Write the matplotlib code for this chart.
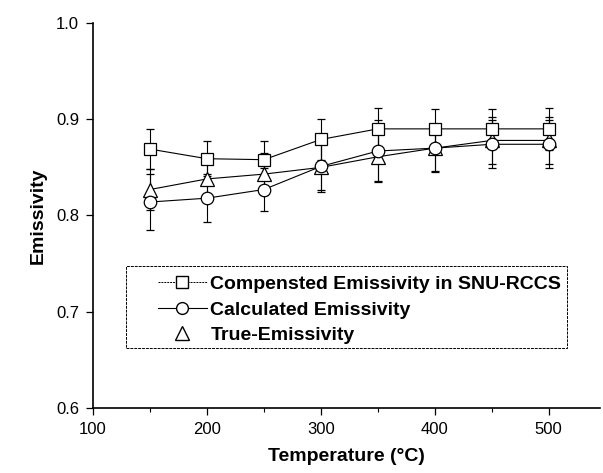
import numpy as np
from matplotlib import pyplot as plt
from matplotlib.lines import Line2D
from matplotlib.patches import Rectangle
from matplotlib.ticker import MultipleLocator

plt.rcParams['font.family'] = ['Liberation Sans', 'DejaVu Sans']

temperature = [150, 200, 250, 300, 350, 400, 450, 500]

compensated = [0.869, 0.859, 0.858, 0.879, 0.890, 0.890, 0.890, 0.890]
compensated_err = [0.021, 0.018, 0.019, 0.021, 0.022, 0.021, 0.021, 0.022]

calculated = [0.814, 0.818, 0.827, 0.851, 0.867, 0.870, 0.874, 0.874]
calculated_err = [0.029, 0.025, 0.022, 0.027, 0.032, 0.025, 0.025, 0.025]

true_emis = [0.827, 0.838, 0.843, 0.850, 0.861, 0.870, 0.878, 0.878]
true_err = [0.021, 0.022, 0.022, 0.024, 0.025, 0.024, 0.024, 0.024]

labels = ['Compensted Emissivity in SNU-RCCS', 'Calculated Emissivity', 'True-Emissivity']

fig = plt.figure(figsize=(6.03, 4.73), dpi=100)
ax = fig.add_axes([93/603, 65/473, 507/603, 385/473])

style = dict(color='black', lw=0.8, mfc='white', mec='black', mew=0.9,
             elinewidth=0.8, capsize=3, capthick=0.8)
ax.errorbar(temperature, true_emis, yerr=true_err, marker='^', ms=10, **style)
ax.errorbar(temperature, calculated, yerr=calculated_err, marker='o', ms=9, **style)
ax.errorbar(temperature, compensated, yerr=compensated_err, marker='s', ms=8.5, **style)

ax.set_xlim(100, 545)
ax.set_ylim(0.6, 1.0)
ax.xaxis.set_major_locator(MultipleLocator(100))
ax.xaxis.set_minor_locator(MultipleLocator(50))
ax.yaxis.set_major_locator(MultipleLocator(0.1))
ax.tick_params(which='major', direction='out', length=5, width=0.9, labelsize=12, pad=5)
ax.tick_params(which='minor', direction='out', length=3, width=0.8)

ax.spines['top'].set_visible(False)
ax.spines['right'].set_visible(False)
for s in ['left', 'bottom']:
    ax.spines[s].set_linewidth(1.2)

ax.set_xlabel('Temperature (°C)', fontsize=14, fontweight='bold', labelpad=8)
ax.set_ylabel('Emissivity', fontsize=14, fontweight='bold', labelpad=7)

handles = [
    Line2D([], [], color='black', lw=0.7, ls=(0, (2, 1)), marker='s', ms=8.5, mfc='white', mec='black'),
    Line2D([], [], color='black', lw=0.8, marker='o', ms=8.5, mfc='white', mec='black'),
    Line2D([], [], color='none', marker='^', ms=9.5, mfc='white', mec='black'),
]
leg = ax.legend(handles, labels, loc='upper left', bbox_to_anchor=(0.128, 0.344),
                prop={'weight': 'bold', 'size': 14}, frameon=False,
                handlelength=2.5, handletextpad=0.2,
                labelspacing=0.4, borderpad=0, borderaxespad=0)

# dashed frame around the legend, wider on the left like the original
ax.add_patch(Rectangle((0.065, 0.156), 0.87, 0.213, transform=ax.transAxes,
                       fill=False, ec='black', lw=0.7, ls=(0, (3, 1)), clip_on=False))

fig.savefig('out.png', dpi=100)
